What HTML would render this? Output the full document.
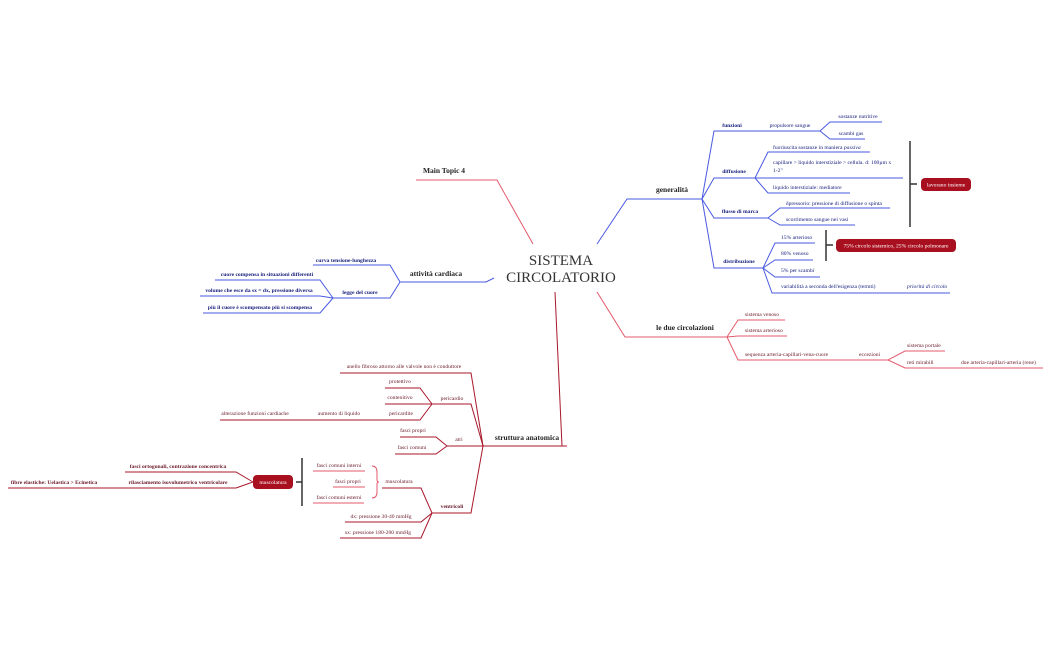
<!DOCTYPE html>
<html><head><meta charset="utf-8"><style>
html,body{margin:0;padding:0;background:#fff;}
svg{display:block;font-family:"Liberation Serif",serif;}
.b{fill:none;stroke:#4a5ae0;stroke-width:1;}
.r{fill:none;stroke:#e35a6c;stroke-width:1;}
.d{fill:none;stroke:#a8172a;stroke-width:1;}
.k{fill:none;stroke:#333;stroke-width:1.5;}
.tb{fill:#1a237e;font-size:5.6px;}
.tr{fill:#6b1a2a;font-size:5.6px;}
.bold{font-weight:bold;}
.main{fill:#222;font-size:7.5px;font-weight:bold;}
</style></head><body>
<svg width="1049" height="650" viewBox="0 0 1049 650">
<!-- center -->
<text x="561" y="265" text-anchor="middle" font-size="15" fill="#333">SISTEMA</text>
<text x="561" y="282" text-anchor="middle" font-size="15" fill="#333">CIRCOLATORIO</text>

<!-- Main Topic 4 -->
<path class="r" d="M533,244 L497,180 L416,180"/>
<text class="main" x="444" y="173" text-anchor="middle">Main Topic 4</text>

<!-- attività cardiaca -->
<path class="b" d="M494,278 L486,282 L400,282"/>
<text class="main" x="436" y="276" text-anchor="middle">attività cardiaca</text>
<path class="b" d="M400,282 L390,265 L313,265"/>
<text class="tb bold" x="346" y="262" text-anchor="middle">curva tensione-lunghezza</text>
<path class="b" d="M400,282 L390,298 L333,298"/>
<text class="tb bold" x="360" y="294" text-anchor="middle">legge del cuore</text>
<path class="b" d="M333,298 L320,280 L215,280"/>
<text class="tb bold" x="267" y="276" text-anchor="middle">cuore compensa in situazioni differenti</text>
<path class="b" d="M333,298 L320,296 L200,296"/>
<text class="tb bold" x="259" y="292" text-anchor="middle">volume che esce da sx = dx, pressione diversa</text>
<path class="b" d="M333,298 L320,313 L203,313"/>
<text class="tb bold" x="260" y="309" text-anchor="middle">più il cuore è scompensato più si scompensa</text>

<!-- generalità -->
<path class="b" d="M597,244 L627,199 L702,199"/>
<text class="main" x="672" y="192" text-anchor="middle">generalità</text>
<path class="b" d="M702,199 L714,131 L760,131"/>
<text class="tb bold" x="732" y="127" text-anchor="middle">funzioni</text>
<path class="b" d="M760,131 L820,131"/>
<text class="tb" x="790" y="127" text-anchor="middle">propulsore sangue</text>
<path class="b" d="M820,131 L830,122 L882,122"/>
<text class="tb" x="858" y="118" text-anchor="middle">sostanze nutritive</text>
<path class="b" d="M820,131 L830,139 L865,139"/>
<text class="tb" x="851" y="135" text-anchor="middle">scambi gas</text>

<path class="b" d="M702,199 L714,178 L755,178"/>
<text class="tb bold" x="734" y="173" text-anchor="middle">diffusione</text>
<path class="b" d="M755,178 L768,152 L870,152"/>
<text class="tb" x="773" y="149">fuoriuscita sostanze in maniera <tspan font-style="italic">passiva</tspan></text>
<path class="b" d="M755,178 L903,178"/>
<text class="tb" x="773" y="164">capillare &gt; liquido interstiziale &gt; cellula. d: 100µm x</text>
<text class="tb" x="773" y="172">1-2"</text>
<path class="b" d="M755,178 L768,193 L850,193"/>
<text class="tb" x="773" y="189">liquido interstiziale: mediatore</text>

<path class="b" d="M702,199 L714,218 L768,218"/>
<text class="tb bold" x="740" y="213" text-anchor="middle">flusso di marca</text>
<path class="b" d="M768,218 L780,208 L890,208"/>
<text class="tb" x="786" y="205">δpressorio: pressione di diffusione o spinta</text>
<path class="b" d="M768,218 L780,225 L855,225"/>
<text class="tb" x="786" y="221">scorrimento sangue nei vasi</text>

<path class="b" d="M702,199 L714,268 L763,268"/>
<text class="tb bold" x="739" y="263" text-anchor="middle">distribuzione</text>
<path class="b" d="M763,268 L775,243 L815,243"/>
<text class="tb" x="781" y="239">15% arterioso</text>
<path class="b" d="M763,268 L775,260 L813,260"/>
<text class="tb" x="781" y="255">80% venoso</text>
<path class="b" d="M763,268 L775,277 L820,277"/>
<text class="tb" x="781" y="272">5% per scambi</text>
<path class="b" d="M763,268 L772,293 L950,293"/>
<text class="tb" x="781" y="288">variabilità a seconda dell'esigenza (termti)</text>
<text class="tb" x="907" y="288" font-style="italic">priorità di circolo</text>

<path class="k" d="M910,141 L910,227 M910,184 L917,184"/>
<rect x="921" y="178" width="50" height="13" rx="4" fill="#a8101f"/>
<text x="946" y="186.5" text-anchor="middle" fill="#fff" font-size="5.6">lavorano insieme</text>
<path class="k" d="M826,230 L826,261 M826,245 L833,245"/>
<rect x="836" y="239" width="120" height="13" rx="4" fill="#a8101f"/>
<text x="896" y="247.5" text-anchor="middle" fill="#fff" font-size="5.6">75% circolo sistemico, 25% circolo polmonare</text>

<!-- le due circolazioni -->
<path class="r" d="M597,292 L625,337 L727,337"/>
<text class="main" x="685" y="330" text-anchor="middle">le due circolazioni</text>
<path class="r" d="M727,337 L738,320 L785,320"/>
<text class="tr" x="745" y="316">sistema venoso</text>
<path class="r" d="M727,337 L738,336 L787,336"/>
<text class="tr" x="745" y="332">sistema arterioso</text>
<path class="r" d="M727,337 L738,360 L888,360"/>
<text class="tr" x="745" y="356">sequenza arteria-capillari-vena-cuore</text>
<text class="tr" x="859" y="356">eccezioni</text>
<path class="r" d="M888,360 L905,351 L945,351"/>
<text class="tr" x="907" y="347">sistema portale</text>
<path class="r" d="M888,360 L905,368 L1043,368"/>
<text class="tr" x="907" y="364">reti mirabili</text>
<text class="tr" x="961" y="364">due arteria-capillari-arteria (rene)</text>

<!-- struttura anatomica -->
<path class="d" d="M555,292 L562,446 M483,446 L567,446"/>
<text class="main" x="527" y="440" text-anchor="middle">struttura anatomica</text>
<path class="d" d="M483,446 L471,373 L340,373"/>
<text class="tr" x="404" y="368" text-anchor="middle">anello fibroso attorno alle valvole non è conduttore</text>
<path class="d" d="M483,446 L471,404 L432,404"/>
<text class="tr" x="452" y="400" text-anchor="middle">pericardio</text>
<path class="d" d="M432,404 L420,388 L385,388"/>
<text class="tr" x="400" y="383" text-anchor="middle">protettivo</text>
<path class="d" d="M432,404 L385,404"/>
<text class="tr" x="400" y="399" text-anchor="middle">contenitivo</text>
<path class="d" d="M432,404 L420,420 L220,420"/>
<text class="tr" x="401" y="415" text-anchor="middle">pericardite</text>
<text class="tr" x="339" y="415" text-anchor="middle">aumento di liquido</text>
<text class="tr" x="255" y="415" text-anchor="middle">alterazione funzioni cardiache</text>
<path class="d" d="M483,446 L447,446"/>
<text class="tr" x="459" y="441" text-anchor="middle">atri</text>
<path class="d" d="M447,446 L436,437 L400,437"/>
<text class="tr" x="413" y="432" text-anchor="middle">fasci propri</text>
<path class="d" d="M447,446 L436,454 L395,454"/>
<text class="tr" x="412" y="449" text-anchor="middle">fasci comuni</text>
<path class="d" d="M483,446 L471,513 L432,513"/>
<text class="tr bold" x="452" y="508" text-anchor="middle">ventricoli</text>
<path class="d" d="M432,513 L421,488 L382,488"/>
<text class="tr" x="399" y="483" text-anchor="middle">muscolatura</text>
<path class="d" d="M432,513 L421,522 L345,522"/>
<text class="tr" x="381" y="518" text-anchor="middle">dx: pressione 30-40 mmHg</text>
<path class="d" d="M432,513 L421,538 L340,538"/>
<text class="tr" x="378" y="534" text-anchor="middle">sx: pressione 180-200 mmHg</text>
<path class="r" d="M372,466 Q377,466 377,472 L377,480 Q377,482 379,482 Q377,482 377,484 L377,492 Q377,498 372,498"/>
<path class="r" d="M313,471 L365,471 M333,487 L365,487 M313,503 L364,503"/>
<text class="tr" x="339" y="467" text-anchor="middle">fasci comuni interni</text>
<text class="tr" x="348" y="483" text-anchor="middle">fasci propri</text>
<text class="tr" x="339" y="499" text-anchor="middle">fasci comuni esterni</text>
<path class="k" d="M302,458 L302,506 M296,482 L302,482"/>
<rect x="253" y="475" width="40" height="14" rx="4" fill="#a8101f"/>
<text x="273" y="484" text-anchor="middle" fill="#fff" font-size="5.6">muscolatura</text>
<path class="d" d="M253,482 L236,472 L125,472"/>
<text class="tr bold" x="178" y="468" text-anchor="middle">fasci ortogonali, contrazione concentrica</text>
<path class="d" d="M253,482 L236,488 L8,488"/>
<text class="tr bold" x="178" y="484" text-anchor="middle">rilasciamento isovolumetrico ventricolare</text>
<text class="tr bold" x="54" y="484" text-anchor="middle">fibre elastiche: Uelastica &gt; Ecinetica</text>
</svg>
</body></html>
